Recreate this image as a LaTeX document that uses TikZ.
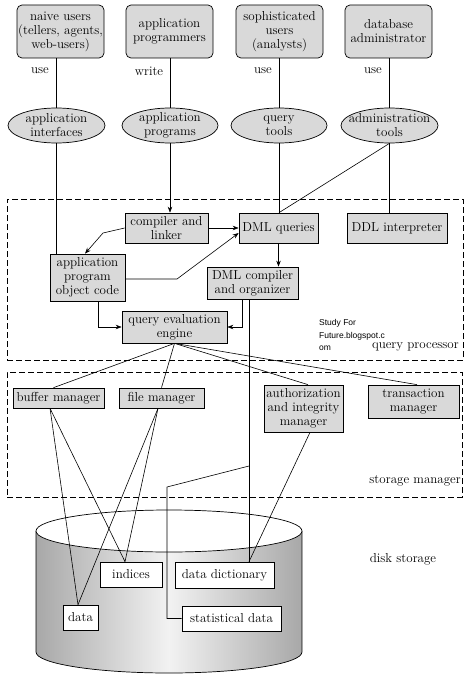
\documentclass[tikz,border=0pt]{standalone}
\usepackage{fontspec}
\newfontfamily\wmfont{Liberation Sans}
\usetikzlibrary{arrows.meta,shapes.geometric,calc}
\definecolor{boxgray}{HTML}{D9D9D9}
\definecolor{diskedge}{HTML}{A8A8A8}
\definecolor{diskmid}{HTML}{F2F2F2}
\begin{document}
\begin{tikzpicture}[x=1pt,y=-1pt,
  font=\fontsize{13}{14}\selectfont,
  base/.style={draw, line width=0.7pt, inner sep=0pt, align=center},
  graybox/.style={base, fill=boxgray, rectangle},
  userbox/.style={graybox, rounded corners=5pt},
  tool/.style={base, fill=boxgray, ellipse},
  diskbox/.style={base, fill=white},
  conn/.style={line width=0.6pt},
  arr/.style={conn, -{Stealth[length=6pt,width=4.5pt]}},
  region/.style={draw, line width=0.7pt, dash pattern=on 6pt off 3pt, inner sep=0pt},
  lbl/.style={inner sep=0pt, align=center}
]
\useasboundingbox (0,0) rectangle (474,679);

% regions
\node[region, minimum width=456pt, minimum height=161pt] (qp) at (235,279.5) {};
\node[region, minimum width=455pt, minimum height=125pt] (sm) at (234.5,434.5) {};
\node[lbl, anchor=east] (qpl) at (459,347) {query processor};
\node[lbl, anchor=east] (sml) at (461,481) {storage manager};
\node[lbl, anchor=west, font=\wmfont\fontsize{8.5}{12.5}\selectfont, align=left] (wm) at (319,335) {Study For\\Future.blogspot.c\\om};

% disk
\shade[left color=diskedge, right color=diskedge, middle color=diskmid]
  (36,531) -- (36,652) arc[start angle=180, end angle=360, x radius=133pt, y radius=21pt] -- (302,531) -- cycle;
\draw[line width=0.7pt] (36,531) -- (36,652) arc[start angle=180, end angle=360, x radius=133pt, y radius=21pt] -- (302,531);
\draw[line width=0.7pt, fill=white] (169,531) ellipse [x radius=133pt, y radius=21pt];
\node[lbl] (dsl) at (403,559) {disk storage};

% users
\node[userbox, minimum width=87pt, minimum height=53pt] (nu) at (60.5,31.5) {naive users\\(tellers, agents,\\web-users)};
\node[userbox, minimum width=87pt, minimum height=53pt] (ap) at (169.5,31.5) {application\\programmers};
\node[userbox, minimum width=87pt, minimum height=53pt] (su) at (279.5,31.5) {sophisticated\\users\\(analysts)};
\node[userbox, minimum width=87pt, minimum height=53pt] (da) at (388.5,31.5) {database\\administrator};

\node[lbl] (u1) at (40,71) {use};
\node[lbl] (u2) at (149,71) {write};
\node[lbl] (u3) at (263,71) {use};
\node[lbl] (u4) at (373,71) {use};

% tools
\node[tool, minimum width=97pt, minimum height=35pt] (ai) at (56.5,125.5) {};
\node[lbl] (ait) at (ai) {application\\interfaces};
\node[tool, minimum width=96pt, minimum height=35pt] (apg) at (170,125.5) {};
\node[lbl] (apgt) at (apg) {application\\programs};
\node[tool, minimum width=96pt, minimum height=35pt] (qt) at (279,125.5) {};
\node[lbl] (qtt) at (qt) {query\\tools};
\node[tool, minimum width=97pt, minimum height=35pt] (at) at (389.5,125.5) {};
\node[lbl] (att) at (at) {administration\\tools};

% query processor
\node[graybox, minimum width=83pt, minimum height=30pt] (cl) at (166.5,228) {compiler and\\linker};
\node[graybox, minimum width=79pt, minimum height=30pt] (dq) at (278.5,228) {DML queries};
\node[graybox, minimum width=100pt, minimum height=30pt] (ddl) at (397,228) {DDL interpreter};
\node[graybox, minimum width=75pt, minimum height=47pt] (apoc) at (87.5,277.5) {application\\program\\object code};
\node[graybox, minimum width=91pt, minimum height=32pt] (dmlc) at (252.5,283) {DML compiler\\and organizer};
\node[graybox, minimum width=105pt, minimum height=32pt] (qe) at (174.5,327) {query evaluation\\engine};

% storage manager
\node[graybox, minimum width=91pt, minimum height=20pt] (bm) at (58.5,398) {buffer manager};
\node[graybox, minimum width=85pt, minimum height=20pt] (fm) at (161.5,398) {file manager};
\node[graybox, minimum width=79pt, minimum height=47pt] (aim) at (303.5,408.5) {authorization\\and integrity\\manager};
\node[graybox, minimum width=91pt, minimum height=33pt] (tm) at (413.5,401.5) {transaction\\manager};

% disk contents
\node[diskbox, minimum width=62pt, minimum height=25pt] (ind) at (131,574.5) {indices};
\node[diskbox, minimum width=99pt, minimum height=26pt] (dd) at (224.5,575) {data dictionary};
\node[diskbox, minimum width=35pt, minimum height=25pt] (dat) at (80.5,617.5) {data};
\node[diskbox, minimum width=99pt, minimum height=25pt] (sd) at (231.5,618.5) {statistical data};

% connectors: users to tools
\draw[conn] (nu.south -| ai.north) -- (ai.north);
\draw[conn] (ap.south -| apg.north) -- (apg.north);
\draw[conn] (su.south -| qt.north) -- (qt.north);
\draw[conn] (da.south -| at.north) -- (at.north);

% tools to query processor
\draw[conn] (ai.south) -- (ai.south |- apoc.north);
\draw[arr] (apg.south) -- (apg.south |- cl.north);
\draw[conn] (qt.south) -- (qt.south |- dq.north);
\draw[conn] (at.south) -- (qt.south |- dq.north);
\draw[conn] (at.south) -- (at.south |- ddl.north);

% inside query processor
\coordinate (k1) at (103,233);
\coordinate (k2) at (177,279);
\draw[arr] (cl.east) -- (dq.west);
\draw[arr] (cl.west) -- (k1) -- ([xshift=-2.5pt]apoc.north);
\draw[arr] ([yshift=-1.5pt]apoc.east) -- (k2) -- ([yshift=-5pt]dq.west);
\draw[arr] (dq.south) -- (dq.south |- dmlc.north);
\draw[arr] ([xshift=-10.5pt]dmlc.south) |- (qe.east);
\draw[arr] ([xshift=10.5pt]apoc.south) |- (qe.west);

% DML compiler to data dictionary / statistical data
\coordinate (v) at ([xshift=-3.5pt]dmlc.south);
\draw[conn] (v) -- (v |- dd.north);
\coordinate (s1) at (249,466);
\coordinate (s2) at (167,487);
\draw[conn] (s1) -- (s2) -- (s2 |- sd.west) -- (sd.west);

% query evaluation engine to storage manager
\draw[conn] (qe.south) -- ([xshift=-5pt]bm.north);
\draw[conn] (qe.south) -- (fm.north);
\draw[conn] (qe.south) -- ([xshift=4.5pt]aim.north);
\draw[conn] (qe.south) -- ([xshift=3.5pt]tm.north);

% storage manager to disk
\draw[conn] ([xshift=-8.5pt]bm.south) -- ([xshift=-2.5pt]dat.north);
\draw[conn] ([xshift=-8.5pt]bm.south) -- ([xshift=-6pt]ind.north);
\draw[conn] ([xshift=-3.5pt]fm.south) -- ([xshift=-2.5pt]dat.north);
\draw[conn] ([xshift=-3.5pt]fm.south) -- ([xshift=-6pt]ind.north);
\draw[conn] ([xshift=6.5pt]aim.south) -- (v |- dd.north);
\end{tikzpicture}
\end{document}
